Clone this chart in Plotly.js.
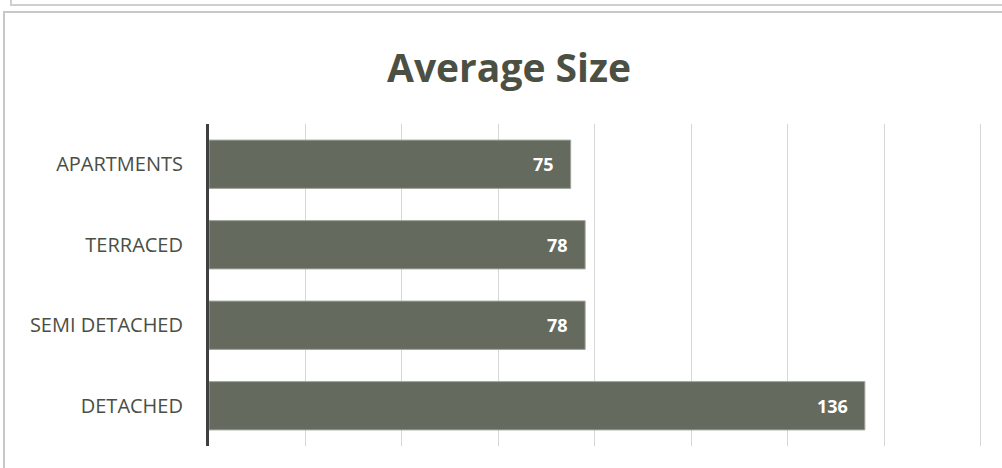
<!DOCTYPE html>
<html>
<head>
<meta charset="utf-8">
<script src="https://cdn.plot.ly/plotly-3.0.1.min.js"></script>
<style>
html,body{margin:0;padding:0;background:#fff;}
#wrap{position:relative;width:1002px;height:468px;overflow:hidden;}
#topbox{position:absolute;left:10px;top:-8px;width:1100px;height:14px;border:2px solid #cfcfcf;box-sizing:border-box;}
#chartbox{position:absolute;left:3px;top:11px;width:1100px;height:600px;border:2px solid #c8c8c8;box-sizing:border-box;}
#chart{position:absolute;left:0;top:0;width:1002px;height:468px;}
</style>
</head>
<body>
<div id="wrap">
<div id="topbox"></div>
<div id="chartbox"></div>
<div id="chart"></div>
</div>
<script>
const categories = ["APARTMENTS", "TERRACED", "SEMI DETACHED", "DETACHED"];
const values = [75, 78, 78, 136];
const tickValues = [0, 20, 40, 60, 80, 100, 120, 140, 160];

const trace = {
  type: "bar",
  orientation: "h",
  y: categories,
  x: values,
  marker: {color: "#646a5e", line: {color: "#a0a59b", width: 1}},
  hoverinfo: "none"
};

const annotations = categories.map((c, i) => ({
  x: values[i], y: c, xref: "x", yref: "y",
  text: "<b>" + values[i] + "</b>",
  showarrow: false, xanchor: "right", yanchor: "middle", xshift: -15,
  font: {family: "Open Sans, sans-serif", size: 18, color: "#ffffff"}
}));

const layout = {
  width: 1002, height: 468,
  margin: {l: 209, r: 19, t: 124, b: 22, pad: 0},
  paper_bgcolor: "rgba(0,0,0,0)",
  plot_bgcolor: "rgba(0,0,0,0)",
  title: {
    text: "<b>Average Size</b>",
    font: {family: "Open Sans, sans-serif", size: 39, color: "#4b5043"},
    xref: "container", x: 0.508, xanchor: "center",
    yref: "container", y: 0.855, yanchor: "middle"
  },
  bargap: 0.4,
  showlegend: false,
  annotations: annotations,
  xaxis: {
    range: [0, 160.5],
    tickvals: tickValues,
    showticklabels: false,
    showgrid: true,
    gridcolor: "#d6d6d6",
    gridwidth: 1,
    zeroline: false,
    showline: false,
    fixedrange: true
  },
  yaxis: {
    autorange: "reversed",
    showline: true,
    linecolor: "#3f3f3f",
    linewidth: 3,
    showgrid: false,
    zeroline: false,
    ticks: "",
    ticklabelstandoff: 19,
    tickfont: {family: "Open Sans, sans-serif", size: 20, color: "#4a4f45"},
    fixedrange: true
  }
};

Plotly.newPlot("chart", [trace], layout, {displayModeBar: false, staticPlot: true});
</script>
</body>
</html>
